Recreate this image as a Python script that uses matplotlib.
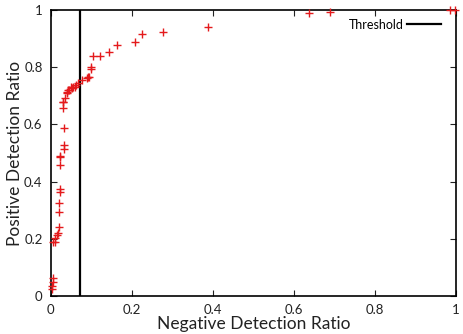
import matplotlib
matplotlib.use("Agg")
import matplotlib.pyplot as plt

plt.rcParams["font.family"] = ["Lato", "DejaVu Sans"]

# detection ratios
neg_ratio = [
    0.002, 0.002, 0.004, 0.006, 0.006, 0.011, 0.010, 0.014, 0.018, 0.020,
    0.020, 0.020, 0.022, 0.022, 0.022, 0.022, 0.022, 0.032, 0.032, 0.032,
    0.030, 0.030, 0.030, 0.035, 0.039, 0.040, 0.043, 0.044, 0.049, 0.051,
    0.055, 0.059, 0.062, 0.067, 0.076, 0.088, 0.092, 0.095, 0.098, 0.098,
    0.103, 0.122, 0.143, 0.164, 0.207, 0.224, 0.277, 0.388, 0.638, 0.689,
    0.985, 0.997,
]
pos_ratio = [
    0.024, 0.036, 0.050, 0.062, 0.190, 0.190, 0.202, 0.213, 0.221, 0.240,
    0.295, 0.324, 0.363, 0.373, 0.458, 0.487, 0.490, 0.514, 0.528, 0.589,
    0.656, 0.677, 0.679, 0.691, 0.709, 0.714, 0.720, 0.722, 0.730, 0.726,
    0.730, 0.732, 0.738, 0.746, 0.755, 0.763, 0.767, 0.767, 0.793, 0.800,
    0.838, 0.838, 0.852, 0.879, 0.887, 0.915, 0.922, 0.941, 0.988, 0.993,
    1.000, 1.000,
]
threshold = 0.071

fig = plt.figure(figsize=(4.63, 3.34), dpi=100)
ax = fig.add_axes([0.110, 0.114, 0.875, 0.856])

ax.plot(neg_ratio, pos_ratio, linestyle="none", marker="+", color="#e41a1c",
        markersize=6, markeredgewidth=1.0, clip_on=False, zorder=3)
ax.axvline(threshold, color="black", linewidth=1.6, label="Threshold")

ax.set_xlim(0, 1)
ax.set_ylim(0, 1)
ticks = [0, 0.2, 0.4, 0.6, 0.8, 1]
labels = ["0", "0.2", "0.4", "0.6", "0.8", "1"]
ax.set_xticks(ticks, labels)
ax.set_yticks(ticks, labels)
ax.tick_params(direction="in", top=True, right=True, length=4, width=0.8,
               labelsize=9.5, colors="#222222", pad=6)
for spine in ax.spines.values():
    spine.set_linewidth(1.2)

ax.set_xlabel("Negative Detection Ratio", fontsize=12.5, labelpad=0, color="#222222")
ax.set_ylabel("Positive Detection Ratio", fontsize=12.5, labelpad=1, color="#222222")

leg = ax.legend(loc="upper right", frameon=False, fontsize=9, markerfirst=False,
                handlelength=2.7, handletextpad=0.3, borderaxespad=0.3,
                bbox_to_anchor=(0.985, 1.0))

fig.savefig("out.png", dpi=100)
